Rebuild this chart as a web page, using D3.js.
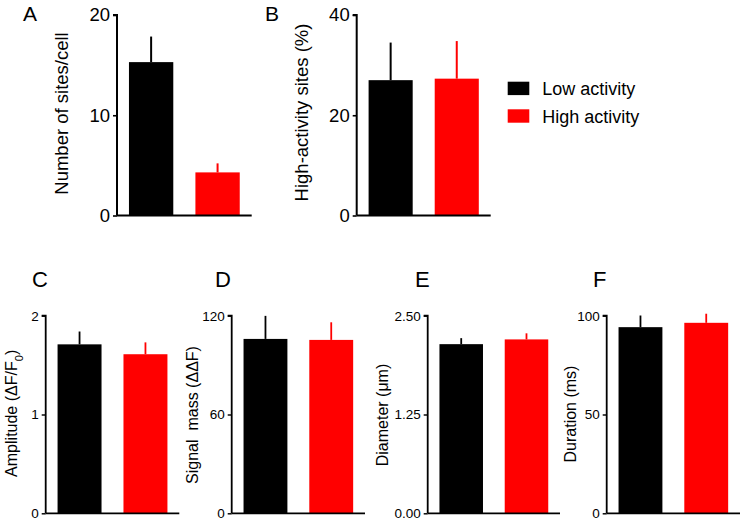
<!DOCTYPE html>
<html>
<head>
<meta charset="utf-8">
<script src="https://cdn.jsdelivr.net/npm/d3@7"></script>
<style>
  html, body { margin: 0; padding: 0; background: #fff; }
  svg { display: block; font-family: "Liberation Sans", Arial, Helvetica, sans-serif; }
  text { white-space: pre; }
</style>
</head>
<body>
<svg id="chart" width="743" height="522"></svg>
<script>
// ---- Data ----
const categories = ["Low activity", "High activity"];
const colors = ["#000000", "#ff0000"];

// Panel A: number of sites per cell
const sitesMean = [15.3, 4.3];
const sitesErr  = [2.55, 0.9];
const sitesTicks = [0, 10, 20];

// Panel B: high-activity sites (%)
const highPctMean = [27.0, 27.3];
const highPctErr  = [7.5, 7.5];
const highPctTicks = [0, 20, 40];

// Panel C: amplitude (dF/F0)
const ampMean = [1.71, 1.61];
const ampErr  = [0.13, 0.12];
const ampTicks = [0, 1, 2];

// Panel D: signal mass (ddF)
const massMean = [105.9, 105.3];
const massErr  = [14.0, 10.7];
const massTicks = [0, 60, 120];

// Panel E: diameter (um)
const diamMean = [2.14, 2.20];
const diamErr  = [0.076, 0.077];
const diamTicks = [0, 1.25, 2.5];

// Panel F: duration (ms)
const durMean = [94.2, 96.4];
const durErr  = [5.9, 4.6];
const durTicks = [0, 50, 100];

// ---- Layout ----
const svg = d3.select("#chart");
const TOP = { y0: 215.5, y1: 15, tickFont: 18.5, labelFont: 18.5, letterFont: 21, axisW: 2, errW: 2 };
const BOT = { y0: 513.3, y1: 315.7, tickFont: 13.5, labelFont: 16, letterFont: 22, axisW: 1.8, errW: 1.8 };

const panels = [
  { letter: "A", row: TOP, ax: 117, axEnd: 251.7, mean: sitesMean, err: sitesErr, ticks: sitesTicks, fmt: d3.format("d"),
    label: "Number of sites/cell", lx: 62, ly: 113.5, letterX: 23, letterY: 20.5 },
  { letter: "B", row: TOP, ax: 356.7, axEnd: 490.7, mean: highPctMean, err: highPctErr, ticks: highPctTicks, fmt: d3.format("d"),
    label: "High-activity sites (%)", lx: 302, ly: 112.5, letterX: 265, letterY: 20.5 },
  { letter: "C", row: BOT, ax: 45.7, axEnd: 179.3, mean: ampMean, err: ampErr, ticks: ampTicks, fmt: d3.format("d"),
    label: "amp", lx: 11, ly: 413.3, letterX: 32, letterY: 287.3 },
  { letter: "D", row: BOT, ax: 231.7, axEnd: 365, mean: massMean, err: massErr, ticks: massTicks, fmt: d3.format("d"),
    label: "Signal  mass (\u0394\u0394F)", lx: 192.5, ly: 415, letterX: 215, letterY: 287.3 },
  { letter: "E", row: BOT, ax: 427.7, axEnd: 560, mean: diamMean, err: diamErr, ticks: diamTicks, fmt: d3.format(".2f"),
    label: "Diameter (\u03bcm)", lx: 382.5, ly: 415, letterX: 415, letterY: 287.3 },
  { letter: "F", row: BOT, ax: 606.7, axEnd: 740, mean: durMean, err: durErr, ticks: durTicks, fmt: d3.format("d"),
    label: "Duration (ms)", lx: 570, ly: 414, letterX: 593, letterY: 287.3 }
];

panels.forEach(p => {
  const r = p.row;
  const g = svg.append("g");
  const x = d3.scaleBand().domain(categories).range([p.ax, p.axEnd]).paddingInner(0.333).paddingOuter(0.18);
  const y = d3.scaleLinear().domain([0, p.ticks[p.ticks.length - 1]]).range([r.y0, r.y1]);

  // bars
  g.selectAll("rect.bar").data(categories).join("rect")
    .attr("x", d => x(d))
    .attr("width", x.bandwidth())
    .attr("y", (d, i) => y(p.mean[i]))
    .attr("height", (d, i) => y(0) - y(p.mean[i]))
    .attr("fill", (d, i) => colors[i]);

  // error bars (upper only)
  g.selectAll("line.err").data(categories).join("line")
    .attr("x1", d => x(d) + x.bandwidth() / 2)
    .attr("x2", d => x(d) + x.bandwidth() / 2)
    .attr("y1", (d, i) => y(p.mean[i]))
    .attr("y2", (d, i) => y(p.mean[i] + p.err[i]))
    .attr("stroke", (d, i) => colors[i])
    .attr("stroke-width", r.errW);

  // y axis
  const yAxis = d3.axisLeft(y).tickValues(p.ticks).tickFormat(p.fmt).tickSize(4).tickPadding(3);
  const ya = g.append("g").attr("transform", `translate(${p.ax},0)`).call(yAxis);
  ya.select(".domain").attr("stroke", "#000").attr("stroke-width", r.axisW).attr("d", `M-4,${r.y1}H0V${r.y0}`);
  ya.selectAll(".tick line").attr("stroke", "#000").attr("stroke-width", r.axisW * 0.8);
  ya.selectAll(".tick text").attr("fill", "#000").style("font-size", r.tickFont + "px")
    .style("font-family", '"Liberation Sans", Arial, sans-serif');

  // x axis (baseline only)
  const xa = g.append("g").attr("transform", `translate(0,${r.y0})`).call(d3.axisBottom(x).tickSize(0).tickFormat(""));
  xa.select(".domain").attr("stroke", "#000").attr("stroke-width", r.axisW).attr("d", `M${p.ax},0H${p.axEnd}`);

  // panel letter
  svg.append("text").attr("x", p.letterX).attr("y", p.letterY)
    .style("font-size", r.letterFont + "px").attr("fill", "#000").text(p.letter);

  // y label
  const t = svg.append("text")
    .attr("transform", `translate(${p.lx},${p.ly}) rotate(-90)`)
    .attr("text-anchor", "middle").attr("dy", "0.35em")
    .style("font-size", r.labelFont + "px").attr("fill", "#000");
  if (p.label === "amp") {
    t.append("tspan").text("Amplitude (\u0394F/F");
    t.append("tspan").attr("baseline-shift", "sub").style("font-size", (r.labelFont * 0.7) + "px").text("0");
    t.append("tspan").text(")");
  } else {
    t.text(p.label);
  }
});

// legend
const legend = svg.append("g");
categories.forEach((c, i) => {
  legend.append("rect").attr("x", 507.7).attr("y", 81.7 + i * 27.6).attr("width", 21.6).attr("height", 13.4).attr("fill", colors[i]);
  legend.append("text").attr("x", 542.3).attr("y", 95 + i * 27.6)
    .style("font-size", "18px").attr("fill", "#000").text(c);
});
</script>
</body>
</html>
